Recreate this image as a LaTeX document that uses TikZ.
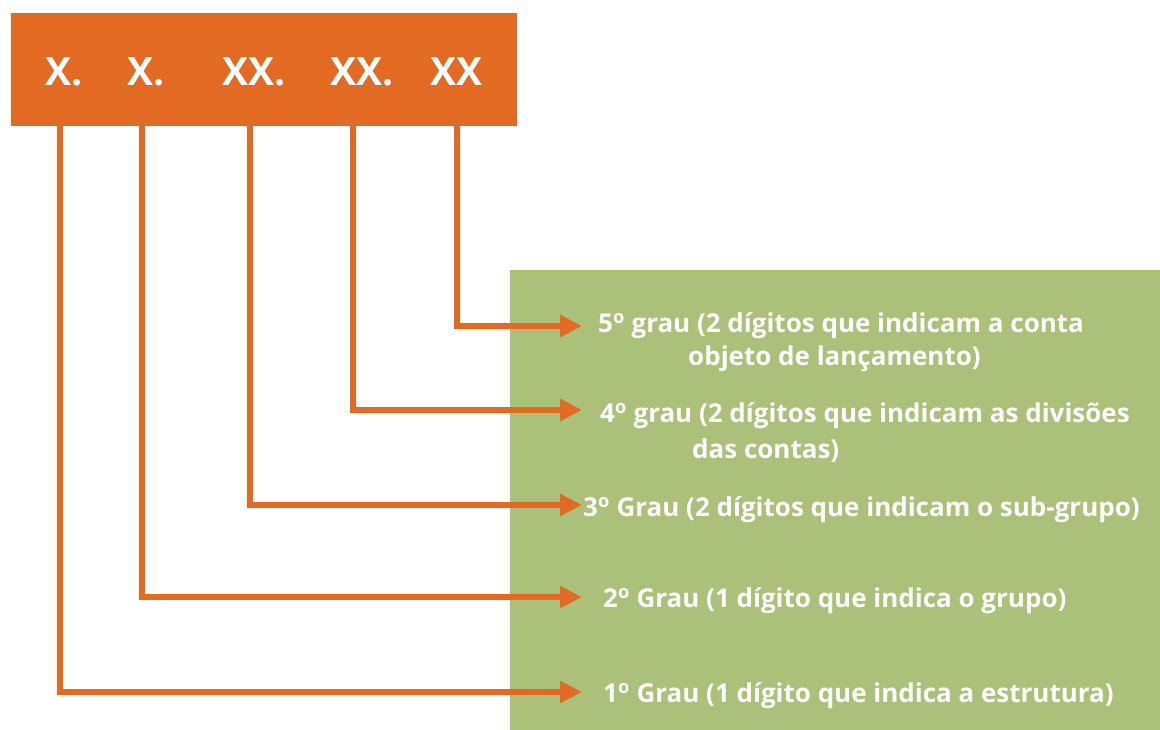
\documentclass[tikz,border=0pt]{standalone}
\usepackage{fontspec}
\setmainfont{Open Sans}
\usetikzlibrary{arrows.meta}
\definecolor{orng}{HTML}{E36A22}
\definecolor{grn}{HTML}{ABC17A}
\newcommand{\ordo}{\textsuperscript{o}}
\tikzset{
  conn/.style={draw=orng, line width=5.5pt, -{Triangle[length=22pt,width=21pt]}},
  lbl/.style={anchor=west, text=white, font=\bfseries\fontsize{26}{30}\selectfont, inner sep=0pt},
  code/.style={anchor=west, text=white, font=\bfseries\fontsize{39}{42}\selectfont, inner sep=0pt}
}
\begin{document}
\begin{tikzpicture}[x=1pt,y=-1pt]
\useasboundingbox (0,0) rectangle (1160,730);
\fill[grn] (510,270) rectangle (1160,730);
\fill[orng] (11,13) rectangle (517,126);
\node[code] (c1) at (45,72) {X.};
\node[code] (c2) at (127,72) {X.};
\node[code] (c3) at (222,72) {XX.};
\node[code] (c4) at (330,72) {XX.};
\node[code] (c5) at (430,72) {XX};
\coordinate (s1) at (60,126);
\coordinate (s2) at (142,126);
\coordinate (s3) at (250,126);
\coordinate (s4) at (353,126);
\coordinate (s5) at (457,126);
\coordinate (t5) at (582,326);
\coordinate (t4) at (582,410);
\coordinate (t3) at (582,505);
\coordinate (t2) at (582,597);
\coordinate (t1) at (582,692);
\node[lbl] (l5a) at (598,326) {5\ordo{} grau (2 dígitos que indicam a conta};
\node[lbl] (l5b) at (688,359) {objeto de lançamento)};
\node[lbl] (l4a) at (600,416) {4\ordo{} grau (2 dígitos que indicam as divisões};
\node[lbl] (l4b) at (692,451) {das contas)};
\node[lbl] (l3) at (583,510) {3\ordo{} Grau (2 dígitos que indicam o sub-grupo)};
\node[lbl] (l2) at (603,601) {2\ordo{} Grau (1 dígito que indica o grupo)};
\node[lbl] (l1) at (603,696) {1\ordo{} Grau (1 dígito que indica a estrutura)};
\draw[conn] (s5) |- (t5);
\draw[conn] (s4) |- (t4);
\draw[conn] (s3) |- (t3);
\draw[conn] (s2) |- (t2);
\draw[conn] (s1) |- (t1);
\end{tikzpicture}
\end{document}
